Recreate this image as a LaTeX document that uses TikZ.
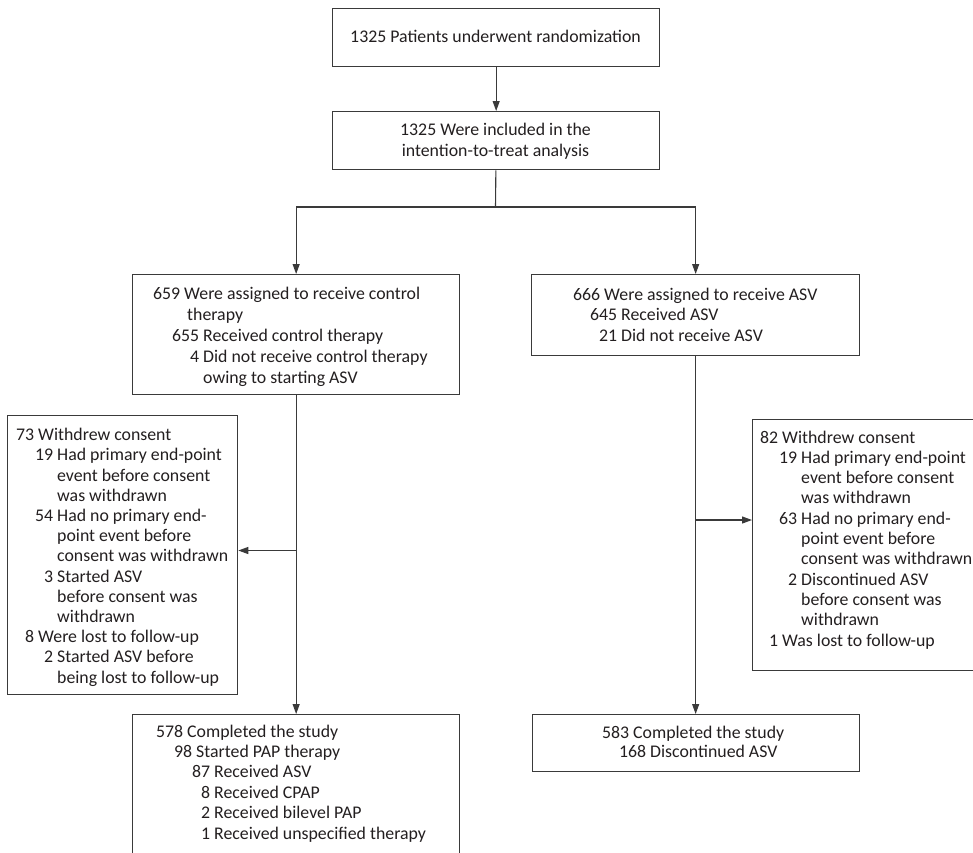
\documentclass[tikz,border=0pt]{standalone}
\usepackage{fontspec}
\setmainfont{Carlito}
\usetikzlibrary{arrows.meta}
\definecolor{ink}{HTML}{231F20}
\definecolor{rule}{HTML}{3A3A3A}
% one line of a nested count list: number right-aligned in a column of width #1
\newcommand\itm[3]{\makebox[#1][r]{#2}\hspace{4pt}#3\par}
\begin{document}
\begin{tikzpicture}[x=1pt,y=-1pt,
  box/.style={draw=rule, line width=1.3pt, rectangle, inner sep=0pt, anchor=north west, fill=white},
  txt/.style={inner sep=0pt, text=ink, font=\fontsize{17.8}{20.3}\selectfont},
  link/.style={draw=rule, line width=1.1pt},
  arr/.style={link, -{Triangle[length=10pt,width=7pt]}}]
\useasboundingbox (0,0) rectangle (973,852);
\clip (0,0) rectangle (973,852);
\fill[white] (0,0) rectangle (973,852);

% boxes
\node[box, minimum width=327pt, minimum height=58pt] (rand) at (332,8) {};
\node[box, minimum width=327pt, minimum height=58pt] (itt) at (332,111) {};
\node[box, minimum width=327pt, minimum height=120pt] (ctrl) at (132,274) {};
\node[box, minimum width=328pt, minimum height=81pt] (asv) at (531,274) {};
\node[box, minimum width=230pt, minimum height=279pt] (wdc) at (7,415) {};
\node[box, minimum width=240pt, minimum height=251pt] (wda) at (752,419) {};
\node[box, minimum width=327pt, minimum height=190pt] (compc) at (132,714) {};
\node[box, minimum width=327pt, minimum height=57pt] (compa) at (532,714) {};

% texts
\node[txt, anchor=base] (rand-t) at (495.5,42.5) {1325 Patients underwent randomization};
\node[txt, anchor=base, font=\fontsize{17.8}{21}\selectfont] (itt-t) at (495.5,135)
  {\parbox[t]{300pt}{\centering 1325 Were included in the\par intention-to-treat analysis\par}};

\node[txt, anchor=base west, font=\fontsize{17.8}{21}\selectfont] (ctrl-t) at (132,299.3) {\parbox[t]{320pt}{%
  \itm{48pt}{659}{Were assigned to receive control}
  \itm{51pt}{}{therapy}
  \itm{67pt}{655}{Received control therapy}
  \itm{67pt}{4}{Did not receive control therapy}
  \itm{67pt}{}{owing to starting ASV}}};

\node[txt, anchor=base west, font=\fontsize{17.8}{20.5}\selectfont] (asv-t) at (531,300) {\parbox[t]{320pt}{%
  \itm{69pt}{666}{Were assigned to receive ASV}
  \itm{86pt}{645}{Received ASV}
  \itm{86pt}{21}{Did not receive ASV}}};

\node[txt, anchor=base west, font=\fontsize{17.8}{20.2}\selectfont] (wdc-t) at (7,440.7) {\parbox[t]{228pt}{%
  \itm{27pt}{73}{Withdrew consent}
  \itm{46pt}{19}{Had primary end-point}
  \itm{46pt}{}{event before consent}
  \itm{46pt}{}{was withdrawn}
  \itm{46pt}{54}{Had no primary end-}
  \itm{46pt}{}{point event before}
  \itm{46pt}{}{consent was withdrawn}
  \itm{46pt}{3}{Started ASV}
  \itm{46pt}{}{before consent was}
  \itm{46pt}{}{withdrawn}
  \itm{27pt}{8}{Were lost to follow-up}
  \itm{46pt}{2}{Started ASV before}
  \itm{46pt}{}{being lost to follow-up}}};

\node[txt, anchor=base west, font=\fontsize{17.8}{20.3}\selectfont] (wda-t) at (752,443) {\parbox[t]{230pt}{%
  \itm{26pt}{82}{Withdrew consent}
  \itm{45pt}{19}{Had primary end-point}
  \itm{45pt}{}{event before consent}
  \itm{45pt}{}{was withdrawn}
  \itm{45pt}{63}{Had no primary end-}
  \itm{45pt}{}{point event before}
  \itm{45pt}{}{consent was withdrawn}
  \itm{45pt}{2}{Discontinued ASV}
  \itm{45pt}{}{before consent was}
  \itm{45pt}{}{withdrawn}
  \itm{26pt}{1}{Was lost to follow-up}}};

\node[txt, anchor=base west, font=\fontsize{17.8}{20.4}\selectfont] (compc-t) at (132,737) {\parbox[t]{320pt}{%
  \itm{51pt}{578}{Completed the study}
  \itm{60pt}{98}{Started PAP therapy}
  \itm{78pt}{87}{Received ASV}
  \itm{78pt}{8}{Received CPAP}
  \itm{78pt}{2}{Received bilevel PAP}
  \itm{78pt}{1}{Received unspecified therapy}}};

\node[txt, anchor=base west, font=\fontsize{17.8}{19}\selectfont] (compa-t) at (532,738) {\parbox[t]{320pt}{%
  \itm{97pt}{583}{Completed the study}
  \itm{114pt}{168}{Discontinued ASV}}};

% connectors
\coordinate (split) at (495.5,207);
\coordinate (lbr) at (295.5,550.5);
\coordinate (rbr) at (695,520);
\draw[arr] (rand) -- (itt);
\draw[link] (itt) -- (split);
\draw[arr] (split) -| (ctrl);
\draw[arr] (split) -| (asv);
\draw[arr] (ctrl) -- (compc);
\draw[arr] (lbr) -- (lbr -| wdc.east);
\draw[arr] (asv.south) -- (asv.south |- compa.north);
\draw[arr] (rbr) -- (rbr -| wda.west);
\end{tikzpicture}
\end{document}
